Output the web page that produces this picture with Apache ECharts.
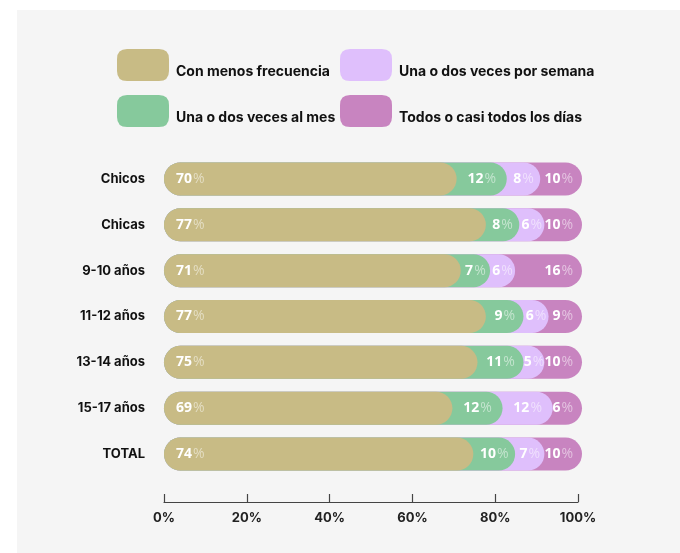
<!DOCTYPE html>
<html>
<head>
<meta charset="utf-8">
<script src="https://cdn.jsdelivr.net/npm/echarts@6/dist/echarts.min.js"></script>
<style>
html,body{margin:0;padding:0;background:#ffffff;}
#chart{width:680px;height:553px;}
</style>
</head>
<body>
<div id="chart"></div>
<script>
const categories = ['Chicos', 'Chicas', '9-10 años', '11-12 años', '13-14 años', '15-17 años', 'TOTAL'];
const seriesNames = ['Con menos frecuencia', 'Una o dos veces al mes', 'Una o dos veces por semana', 'Todos o casi todos los días'];
const menosFrecuencia = [70, 77, 71, 77, 75, 69, 74];
const alMes = [12, 8, 7, 9, 11, 12, 10];
const porSemana = [8, 6, 6, 6, 5, 12, 7];
const diario = [10, 10, 16, 9, 10, 6, 10];
const totalShare = 100;
const tickValues = [0, 20, 40, 60, 80, 100];

const colors = ['#c8bb85', '#86c99c', '#dfbffc', '#c884c0'];
const raw = [menosFrecuencia, alMes, porSemana, diario];

// cumulative ends; the last group always closes the 100% total
const cum = raw.map((arr, s) => arr.map((_, i) => {
  if (s === raw.length - 1) return totalShare;
  let t = 0;
  for (let k = 0; k <= s; k++) t += raw[k][i];
  return Math.min(t, totalShare);
}));

const numFont = 'Open Sans';
const labelRich = {
  v: { color: '#ffffff', fontWeight: 'bold', fontSize: 14, fontFamily: numFont },
  p: { color: 'rgba(255,255,255,0.5)', fontWeight: 'normal', fontSize: 14, fontFamily: numFont, padding: [0, 0, 0, 1] }
};
function labelFor(series) {
  return function (p) { return '{v|' + raw[series][p.dataIndex] + '}{p|%}'; };
}

const iconPath = 'path://M10,0 L42,0 Q52,0 52,10 L52,22 Q52,32 42,32 L10,32 Q0,32 0,22 L0,10 Q0,0 10,0 Z';
const legendText = {
  rich: {
    t: { fontSize: 14, fontWeight: 'bold', fontFamily: 'Inter', color: '#111111', padding: [14, 0, 0, 2] }
  }
};
function legendFormatter(name) { return '{t|' + name + '}'; }

const visualOrder = [3, 2, 1, 0];
const series = [];
visualOrder.forEach(function (s) {
  const item = {
    name: seriesNames[s],
    type: 'bar',
    xAxisIndex: 1,
    barWidth: 33,
    barGap: '-100%',
    clip: false,
    silent: true,
    itemStyle: { color: colors[s], borderRadius: 17 },
    data: cum[s],
    z: 2
  };
  if (s === 0) {
    item.label = { show: true, position: 'insideLeft', distance: 12, formatter: labelFor(0), rich: labelRich };
  } else if (s === 3) {
    item.label = { show: true, position: 'insideRight', distance: 9, formatter: labelFor(3), rich: labelRich };
  }
  series.push(item);
});
// invisible stacked segments carrying the centred labels of the middle groups
[0, 1, 2].forEach(function (s) {
  series.push({
    name: '_lbl' + s,
    type: 'bar',
    xAxisIndex: 1,
    stack: 'labels',
    barWidth: 33,
    barGap: '-100%',
    clip: false,
    silent: true,
    itemStyle: { color: 'rgba(0,0,0,0)' },
    label: s === 0 ? { show: false } : { show: true, position: 'inside', formatter: labelFor(s), rich: labelRich },
    data: raw[s],
    z: 5
  });
});

const chart = echarts.init(document.getElementById('chart'), null, { renderer: 'canvas' });
chart.setOption({
  backgroundColor: '#ffffff',
  animation: false,
  graphic: [{
    type: 'rect', silent: true, z: -10,
    shape: { x: 17, y: 10, width: 663, height: 543 },
    style: { fill: '#f5f5f5' }
  }],
  legend: [
    {
      data: [seriesNames[0], seriesNames[1]],
      orient: 'vertical', left: 117, top: 49, padding: 0,
      itemWidth: 52, itemHeight: 32, itemGap: 14,
      icon: iconPath, selectedMode: false, textStyle: legendText, formatter: legendFormatter
    },
    {
      data: [seriesNames[2], seriesNames[3]],
      orient: 'vertical', left: 340, top: 49, padding: 0,
      itemWidth: 52, itemHeight: 32, itemGap: 14,
      icon: iconPath, selectedMode: false, textStyle: legendText, formatter: legendFormatter
    }
  ],
  grid: { left: 164, right: 102, top: 156, bottom: 76, containLabel: false },
  xAxis: [
    {
      type: 'value', min: 0, max: 100, interval: 20, position: 'bottom', offset: 25,
      axisLine: { show: true, lineStyle: { color: '#444444', width: 1.2 } },
      axisTick: { show: true, inside: true, length: 8, lineStyle: { color: '#444444', width: 1.2 } },
      splitLine: { show: false },
      axisLabel: {
        margin: 10, fontSize: 13, fontWeight: 'bold', fontFamily: 'Inter', color: '#222222',
        formatter: function (v) { return tickValues.indexOf(v) >= 0 ? v + '%' : ''; }
      }
    },
    {
      type: 'value', min: 0, max: 100 * 414 / 418, show: false, splitLine: { show: false }
    }
  ],
  yAxis: {
    type: 'category', data: categories, inverse: true,
    axisLine: { show: false }, axisTick: { show: false }, splitLine: { show: false },
    axisLabel: { margin: 19, fontSize: 13, fontWeight: 'bold', fontFamily: 'Inter', color: '#111111', padding: [6, 0, 0, 0] }
  },
  series: series
});
</script>
</body>
</html>
